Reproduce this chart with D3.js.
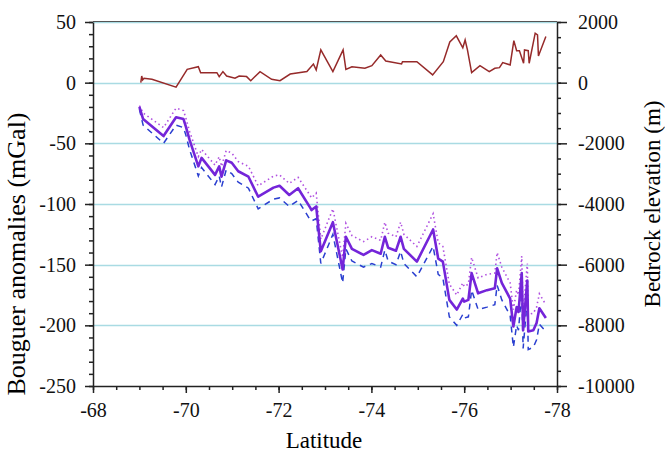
<!DOCTYPE html>
<html>
<head>
<meta charset="utf-8">
<script src="https://cdn.jsdelivr.net/npm/d3@7"></script>
<style>
    body { margin: 0; background: #fff; }
</style>
</head>
<body>
<svg id="chart" width="665" height="455"></svg>
<script>
// Bouguer anomaly profile (mGal) along latitude
var gravLat = [-69.00, -69.08, -69.52, -69.79, -69.95, -70.00, -70.08, -70.27, -70.34, -70.63,
    -70.72, -70.77, -70.87, -70.99, -71.13, -71.35, -71.56, -71.89, -72.02, -72.23,
    -72.42, -72.68, -72.71, -72.81, -72.91, -73.17, -73.38, -73.45, -73.58, -73.83,
    -74.01, -74.20, -74.29, -74.36, -74.53, -74.63, -74.70, -74.98, -75.33, -75.44,
    -75.54, -75.68, -75.84, -75.97, -76.00, -76.09, -76.16, -76.30, -76.49, -76.66,
    -76.71, -76.81, -76.99, -77.06, -77.13, -77.17, -77.24, -77.27, -77.36, -77.38,
    -77.49, -77.56, -77.62, -77.76];
var gravMain = [-20, -30, -44, -28.5, -30, -36, -47, -69, -62, -76,
    -69, -77.5, -64, -66, -73, -77.5, -94, -86.5, -85, -92.6,
    -87, -103, -105, -102, -139, -115, -154, -127, -137, -142,
    -138, -141, -127, -136, -138.5, -127, -137, -147.5, -121, -145,
    -147.5, -179, -187, -178, -180.5, -179, -157, -173.6, -171, -169.5,
    -153, -165, -178, -201, -185, -189, -157, -204, -163, -205,
    -204, -198, -186, -194];
var gravUpper = [-19, -25, -37, -21, -23, -29, -40, -61, -55, -68,
    -61, -69, -56, -58, -65, -69, -85, -77, -76, -83,
    -78, -93, -95, -91, -129, -104, -144, -116, -126, -131,
    -127, -130, -115, -124, -127, -115, -125, -135, -108, -132,
    -135, -166, -175, -165, -168, -166, -144, -161, -158, -157,
    -140, -152, -165, -187, -171, -175, -143, -190, -149, -191,
    -190, -185, -174, -183];
var gravLower = [-22, -35, -50, -35, -37, -43, -55, -77, -70, -84,
    -77, -86, -72, -75, -82, -87, -104, -96, -95, -102,
    -97, -113, -114, -112, -149, -125, -165, -137, -147, -152,
    -149, -152, -138, -147, -150, -139, -149, -160, -135, -158,
    -161, -193, -200, -191, -194, -193, -171, -187, -185, -183,
    -167, -179, -192, -218, -200, -204, -172, -219, -178, -220,
    -218, -212, -199, -205];

// Bedrock elevation (m) along latitude
var bedLat = [-69.03, -69.05, -69.07, -69.10, -69.27, -69.79, -70.03, -70.27, -70.32, -70.67,
    -70.72, -70.80, -70.88, -71.06, -71.15, -71.31, -71.40, -71.60, -71.85, -72.03,
    -72.25, -72.61, -72.75, -72.81, -72.91, -73.17, -73.39, -73.45, -73.58, -73.86,
    -74.01, -74.20, -74.31, -74.65, -74.67, -74.98, -75.32, -75.55, -75.69, -75.83,
    -75.97, -76.02, -76.07, -76.16, -76.34, -76.54, -76.66, -76.76, -76.83, -76.99,
    -77.07, -77.13, -77.19, -77.28, -77.30, -77.38, -77.40, -77.53, -77.58, -77.60,
    -77.76];
var bedElev = [0, 220, 90, 145, 110, -150, 440, 525, 330, 330,
    200, 365, 220, 145, 220, 200, 65, 365, 110, 65,
    285, 365, 615, 420, 1080, 365, 1080, 440, 525, 475,
    560, 915, 715, 615, 690, 690, 255, 690, 1340, 1545,
    1150, 1408, 1080, 330, 560, 365, 475, 495, 660, 585,
    1385, 1055, 1055, 640, 1080, 1055, 640, 1630, 1575, 880,
    1520];

var xTicks = [-68, -70, -72, -74, -76, -78];
var yLeftTicks = [50, 0, -50, -100, -150, -200, -250];
var yRightTicks = [2000, 0, -2000, -4000, -6000, -8000, -10000];

var serif = "'Liberation Serif', 'Times New Roman', 'DejaVu Serif', serif";

function drawProfile() {
    var svg = d3.select("#chart");
    var margin = {left: 93, right: 108, top: 22, bottom: 69};
    var width = 665 - margin.left - margin.right,
        height = 455 - margin.top - margin.bottom;

    var x = d3.scaleLinear().domain([-68, -78]).range([0, width]);
    var yL = d3.scaleLinear().domain([-250, 50]).range([height, 0]);
    var yR = d3.scaleLinear().domain([-10000, 2000]).range([height, 0]);

    var g = svg.append("g")
        .attr("transform", "translate(" + margin.left + "," + margin.top + ")");

    // light blue gridlines at major left ticks
    g.append("g")
        .selectAll("line")
        .data(yLeftTicks.filter(function (d) { return d > -250; }))
        .enter().append("line")
        .attr("x1", 0)
        .attr("x2", width)
        .attr("y1", function (d) { return Math.round(yL(d)) + 0.5; })
        .attr("y2", function (d) { return Math.round(yL(d)) + 0.5; })
        .attr("stroke", "#a9dbe3")
        .attr("stroke-width", 1.3);

    // top frame
    g.append("line")
        .attr("x1", 0).attr("x2", width)
        .attr("y1", -0.5).attr("y2", -0.5)
        .attr("stroke", "#555")
        .attr("stroke-width", 1.2);

    // minor tick axes
    var minorX = d3.range(-68, -78.01, -0.5);
    var minorL = d3.range(50, -250.01, -10);
    var minorR = d3.range(2000, -10000.01, -500);

    g.append("g")
        .attr("transform", "translate(0," + height + ")")
        .call(d3.axisBottom(x).tickValues(minorX).tickSize(4).tickFormat(""))
        .call(function (a) { a.select(".domain").remove(); });
    g.append("g")
        .call(d3.axisLeft(yL).tickValues(minorL).tickSize(4).tickFormat(""))
        .call(function (a) { a.select(".domain").remove(); });
    g.append("g")
        .attr("transform", "translate(" + width + ",0)")
        .call(d3.axisRight(yR).tickValues(minorR).tickSize(4).tickFormat(""))
        .call(function (a) { a.select(".domain").remove(); });

    // major axes
    var xAxis = g.append("g")
        .attr("transform", "translate(0," + height + ")")
        .call(d3.axisBottom(x).tickValues(xTicks).tickSize(7).tickSizeOuter(0).tickPadding(10)
            .tickFormat(function (d) { return d; }));
    var lAxis = g.append("g")
        .call(d3.axisLeft(yL).tickValues(yLeftTicks).tickSize(8).tickSizeOuter(0).tickPadding(9)
            .tickFormat(function (d) { return d; }));
    var rAxis = g.append("g")
        .attr("transform", "translate(" + width + ",0)")
        .call(d3.axisRight(yR).tickValues(yRightTicks).tickSize(10).tickSizeOuter(0).tickPadding(11)
            .tickFormat(function (d) { return d; }));

    [xAxis, lAxis, rAxis].forEach(function (a) {
        a.attr("font-family", null).attr("font-size", null);
        a.selectAll("text")
            .style("font-family", serif)
            .style("font-size", "20px")
            .attr("fill", "#111");
        a.select(".domain").attr("stroke", "#222").attr("stroke-width", 1.5);
    });
    g.selectAll(".tick line").attr("stroke", "#222").attr("stroke-width", 1.5);

    // lines
    var gravLine = function (vals) {
        return d3.line()
            .x(function (d, i) { return x(gravLat[i]); })
            .y(function (d) { return yL(d); })(vals);
    };

    g.append("path")
        .attr("d", gravLine(gravUpper))
        .attr("fill", "none")
        .attr("stroke", "#b050e0")
        .attr("stroke-width", 1.6)
        .attr("stroke-dasharray", "1.5,3");

    g.append("path")
        .attr("d", gravLine(gravLower))
        .attr("fill", "none")
        .attr("stroke", "#2a3fd0")
        .attr("stroke-width", 1.5)
        .attr("stroke-dasharray", "6,5");

    g.append("path")
        .attr("d", gravLine(gravMain))
        .attr("fill", "none")
        .attr("stroke", "#7425d9")
        .attr("stroke-width", 2.6)
        .attr("stroke-linejoin", "round");

    var bedLine = d3.line()
        .x(function (d, i) { return x(bedLat[i]); })
        .y(function (d) { return yR(d); });

    g.append("path")
        .attr("d", bedLine(bedElev))
        .attr("fill", "none")
        .attr("stroke", "#962a2a")
        .attr("stroke-width", 1.5);

    // titles
    svg.append("text")
        .attr("x", 324)
        .attr("y", 448)
        .attr("text-anchor", "middle")
        .style("font-family", serif)
        .style("font-size", "23px")
        .text("Latitude");

    svg.append("text")
        .attr("transform", "translate(25,254) rotate(-90)")
        .attr("text-anchor", "middle")
        .style("font-family", serif)
        .style("font-size", "26px")
        .text("Bouguer anomalies (mGal)");

    svg.append("text")
        .attr("transform", "translate(660,204) rotate(-90)")
        .attr("text-anchor", "middle")
        .style("font-family", serif)
        .style("font-size", "23px")
        .text("Bedrock elevation (m)");
}

drawProfile();
</script>
</body>
</html>
